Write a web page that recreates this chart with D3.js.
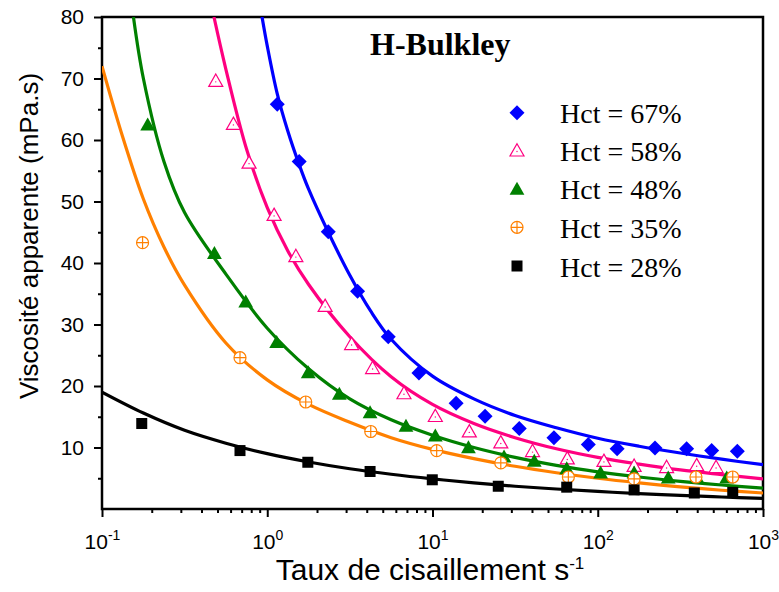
<!DOCTYPE html>
<html>
<head>
<meta charset="utf-8">
<script src="https://cdn.jsdelivr.net/npm/d3@7/dist/d3.min.js"></script>
<style>
  html, body { margin: 0; padding: 0; background: #fff; }
  svg { display: block; }
</style>
</head>
<body>
<svg id="chart" width="779" height="592"></svg>
<script>
// ---------- DATA ----------
const seriesNames = ["Hct = 67%", "Hct = 58%", "Hct = 48%", "Hct = 35%", "Hct = 28%"];

// measured points (shear rate s^-1, apparent viscosity mPa.s)
const rate67 = [1.15, 1.56, 2.34, 3.52, 5.40, 8.28, 13.9, 20.8, 33.5, 54.3, 87.7, 131, 222, 345, 489, 699];
const visc67 = [65.8, 56.5, 45.1, 35.4, 28.0, 22.1, 17.2, 15.1, 13.1, 11.6, 10.5, 9.8, 9.9, 9.8, 9.5, 9.4];

const rate58 = [0.488, 0.624, 0.776, 1.10, 1.49, 2.24, 3.24, 4.34, 6.72, 10.4, 16.7, 25.9, 40.3, 65.4, 109, 166, 261, 397, 520];
const visc58 = [69.7, 62.7, 56.4, 47.9, 41.2, 33.1, 26.9, 23.0, 18.9, 15.2, 12.7, 10.9, 9.5, 8.3, 7.9, 7.1, 6.9, 7.2, 6.9];

const rate48 = [0.189, 0.479, 0.741, 1.14, 1.77, 2.73, 4.19, 6.91, 10.4, 16.5, 27.1, 41.3, 64.9, 104, 166, 267, 397, 603];
const visc48 = [62.6, 41.7, 33.8, 27.2, 22.3, 18.8, 15.8, 13.6, 12.0, 10.1, 8.6, 7.9, 6.7, 6.0, 6.0, 5.2, 5.3, 5.2];

const rate35 = [0.176, 0.684, 1.71, 4.23, 10.6, 25.9, 66.4, 166, 393, 656];
const visc35 = [43.3, 24.6, 17.4, 12.6, 9.5, 7.5, 5.2, 4.9, 5.2, 5.2];

const rate28 = [0.174, 0.684, 1.76, 4.19, 9.97, 25.0, 64.9, 166, 384, 656];
const visc28 = [13.9, 9.5, 7.6, 6.1, 4.75, 3.7, 3.55, 3.1, 2.6, 2.7];

// Herschel-Bulkley fitted curves
const fitRate67 = [0.93, 1.0, 1.15, 1.33, 1.56, 1.78, 2.34, 3.16, 4.22, 5.62, 10, 17.8, 31.6, 56.2, 100, 178, 316, 562, 1000];
const fitVisc67 = [80, 75.3, 67.5, 61.5, 56.0, 52.0, 45.0, 38.0, 32.2, 27.6, 21.6, 17.9, 15.2, 13.2, 11.5, 10.2, 9.1, 8.1, 7.2];

const fitRate58 = [0.476, 0.562, 0.75, 1.0, 1.33, 1.78, 3.16, 5.62, 10, 17.8, 31.6, 56.2, 100, 178, 316, 562, 1000];
const fitVisc58 = [80, 71.5, 58.5, 49.0, 42.0, 36.5, 28.0, 21.5, 17.0, 13.9, 11.6, 9.8, 8.4, 7.3, 6.35, 5.6, 4.9];

const fitRate48 = [0.155, 0.178, 0.237, 0.316, 0.562, 1.0, 1.78, 3.16, 5.62, 10, 17.8, 31.6, 56.2, 100, 178, 316, 562, 1000];
const fitVisc48 = [80, 70.0, 56.5, 48.2, 38.2, 29.4, 22.8, 17.9, 14.5, 12.0, 10.0, 8.4, 7.1, 6.05, 5.2, 4.5, 3.9, 3.4];

const fitRate35 = [0.1, 0.133, 0.178, 0.237, 0.316, 0.562, 1.0, 1.78, 3.16, 5.62, 10, 17.8, 31.6, 56.2, 100, 178, 316, 562, 1000];
const fitVisc35 = [72.0, 60.6, 50.4, 42.6, 36.4, 27.0, 21.0, 17.0, 14.1, 11.6, 9.7, 8.2, 6.95, 5.9, 5.0, 4.25, 3.6, 3.05, 2.6];

const fitRate28 = [0.1, 0.178, 0.316, 0.562, 1.0, 1.78, 3.16, 5.62, 10, 17.8, 31.6, 56.2, 100, 178, 316, 562, 1000];
const fitVisc28 = [19.0, 15.6, 12.8, 10.7, 9.0, 7.65, 6.55, 5.65, 4.9, 4.25, 3.7, 3.25, 2.85, 2.5, 2.2, 1.95, 1.72];

// axis ticks
const xTickValues = [0.1, 1, 10, 100, 1000];
const xTickExponents = ["-1", "0", "1", "2", "3"];
const yTickValues = [10, 20, 30, 40, 50, 60, 70, 80];
const yMinorValues = [5, 15, 25, 35, 45, 55, 65, 75];

const chartTitle = "H-Bulkley";
const xTitle = "Taux de cisaillement s";
const xTitleSup = "-1";
const yTitle = "Viscosité apparente (mPa.s)";

// ---------- STYLE ----------
const colors = ["#0000FF", "#FF0080", "#008000", "#FF8000", "#000000"];
const symbols = ["diamond", "openTriangle", "triangle", "circlePlus", "square"];

const margin = { left: 102, right: 763, top: 17, bottom: 509 };

const svg = d3.select("#chart");
const x = d3.scaleLog().domain([0.1, 1000]).range([margin.left, margin.right]);
const y = d3.scaleLinear().domain([0, 80]).range([margin.bottom, margin.top]);

const sansFont = "'Liberation Sans', Arial, Helvetica, sans-serif";
const serifFont = "'Liberation Serif', 'Times New Roman', Times, serif";

// clip
svg.append("defs").append("clipPath").attr("id", "plotClip")
  .append("rect")
  .attr("x", margin.left).attr("y", margin.top)
  .attr("width", margin.right - margin.left)
  .attr("height", margin.bottom - margin.top);

// ---------- AXES ----------
const minorX = [];
[0.1, 1, 10, 100].forEach(d => { for (let k = 2; k <= 9; k++) minorX.push(d * k); });

function styleAxis(g) {
  g.select(".domain").remove();
  g.selectAll(".tick line").attr("stroke", "#000").attr("stroke-width", 2);
}

svg.append("g")
  .attr("transform", `translate(0,${margin.bottom})`)
  .call(d3.axisBottom(x).tickValues(minorX).tickSize(4).tickFormat(""))
  .call(styleAxis);

const xAxisG = svg.append("g")
  .attr("transform", `translate(0,${margin.bottom})`)
  .call(d3.axisBottom(x).tickValues(xTickValues).tickSize(8).tickFormat(""))
  .call(styleAxis);

xAxisG.selectAll(".tick").each(function(d, i) {
  const t = d3.select(this).append("text")
    .attr("x", 0).attr("y", 40)
    .attr("text-anchor", "middle")
    .attr("fill", "#000")
    .style("font-family", sansFont)
    .style("font-size", "21px");
  t.append("tspan").text("10");
  t.append("tspan").attr("dy", -9).style("font-size", "14px").text(xTickExponents[i]);
});

svg.append("g")
  .attr("transform", `translate(${margin.left},0)`)
  .call(d3.axisLeft(y).tickValues(yMinorValues).tickSize(4).tickFormat(""))
  .call(styleAxis);

svg.append("g")
  .attr("transform", `translate(${margin.left},0)`)
  .call(d3.axisLeft(y).tickValues(yTickValues).tickSize(8).tickPadding(10).tickFormat(d3.format("d")))
  .call(styleAxis)
  .call(g => g.selectAll(".tick text")
    .attr("fill", "#000")
    .style("font-family", sansFont)
    .style("font-size", "21px"));

// frame
svg.append("rect")
  .attr("x", margin.left).attr("y", margin.top)
  .attr("width", margin.right - margin.left)
  .attr("height", margin.bottom - margin.top)
  .attr("fill", "none")
  .attr("stroke", "#000")
  .attr("stroke-width", 2.5);

// axis titles
const xt = svg.append("text")
  .attr("x", 430).attr("y", 580)
  .attr("text-anchor", "middle")
  .attr("fill", "#000")
  .style("font-family", sansFont)
  .style("font-size", "30px");
xt.append("tspan").text(xTitle);
xt.append("tspan").attr("dy", -11).style("font-size", "17px").text(xTitleSup);

svg.append("text")
  .attr("transform", "translate(38,236) rotate(-90)")
  .attr("text-anchor", "middle")
  .attr("fill", "#000")
  .style("font-family", sansFont)
  .style("font-size", "26px")
  .text(yTitle);

// title
svg.append("text")
  .attr("x", 370).attr("y", 55)
  .attr("fill", "#000")
  .style("font-family", serifFont)
  .style("font-weight", "bold")
  .style("font-size", "32px")
  .text(chartTitle);

// ---------- CURVES ----------
const fits = [
  [fitRate67, fitVisc67], [fitRate58, fitVisc58], [fitRate48, fitVisc48],
  [fitRate35, fitVisc35], [fitRate28, fitVisc28]
];
const pts = [
  [rate67, visc67], [rate58, visc58], [rate48, visc48], [rate35, visc35], [rate28, visc28]
];

const line = d3.line()
  .x(d => x(d[0])).y(d => y(d[1]))
  .curve(d3.curveCatmullRom.alpha(0.5));

const curveG = svg.append("g").attr("clip-path", "url(#plotClip)");
[4, 3, 2, 1, 0].forEach(i => {
  const [rx, vy] = fits[i];
  const data = rx.map((r, j) => [r, vy[j]]);
  curveG.append("path")
    .datum(data)
    .attr("d", line)
    .attr("fill", "none")
    .attr("stroke", colors[i])
    .attr("stroke-width", 3.2);
});

// ---------- MARKERS ----------
function drawMarker(g, type, color) {
  switch (type) {
    case "diamond":
      g.append("path").attr("d", "M0,-7.5L7.5,0L0,7.5L-7.5,0Z").attr("fill", color);
      break;
    case "openTriangle":
      g.append("path").attr("d", "M0,-6.3L7,6L-7,6Z")
        .attr("fill", "#fff").attr("stroke", color).attr("stroke-width", 1.2);
      g.append("circle").attr("cx", 0).attr("cy", 1.5).attr("r", 0.7).attr("fill", color);
      break;
    case "triangle":
      g.append("path").attr("d", "M0,-6.6L7.4,6.4L-7.4,6.4Z").attr("fill", color);
      break;
    case "circlePlus":
      g.append("circle").attr("r", 6)
        .attr("fill", "#fff").attr("stroke", color).attr("stroke-width", 1.2);
      g.append("path").attr("d", "M-6,0H6M0,-6V6")
        .attr("stroke", color).attr("stroke-width", 1.2);
      break;
    case "square":
      g.append("rect").attr("x", -5.5).attr("y", -5.5).attr("width", 11).attr("height", 11).attr("fill", color);
      break;
  }
}

const markG = svg.append("g");
[0, 1, 2, 3, 4].forEach(i => {
  const [rx, vy] = pts[i];
  rx.forEach((r, j) => {
    const g = markG.append("g").attr("transform", `translate(${x(r)},${y(vy[j])})`);
    drawMarker(g, symbols[i], colors[i]);
  });
});

// ---------- LEGEND ----------
const legendRowY = [112.7, 150, 188.3, 227.3, 266];
seriesNames.forEach((name, i) => {
  const g = svg.append("g").attr("transform", `translate(517,${legendRowY[i]})`);
  drawMarker(g, symbols[i], colors[i]);
  svg.append("text")
    .attr("x", 560).attr("y", legendRowY[i] + 10.5)
    .attr("fill", "#000")
    .style("font-family", serifFont)
    .style("font-size", "28px")
    .text(name);
});
</script>
</body>
</html>
